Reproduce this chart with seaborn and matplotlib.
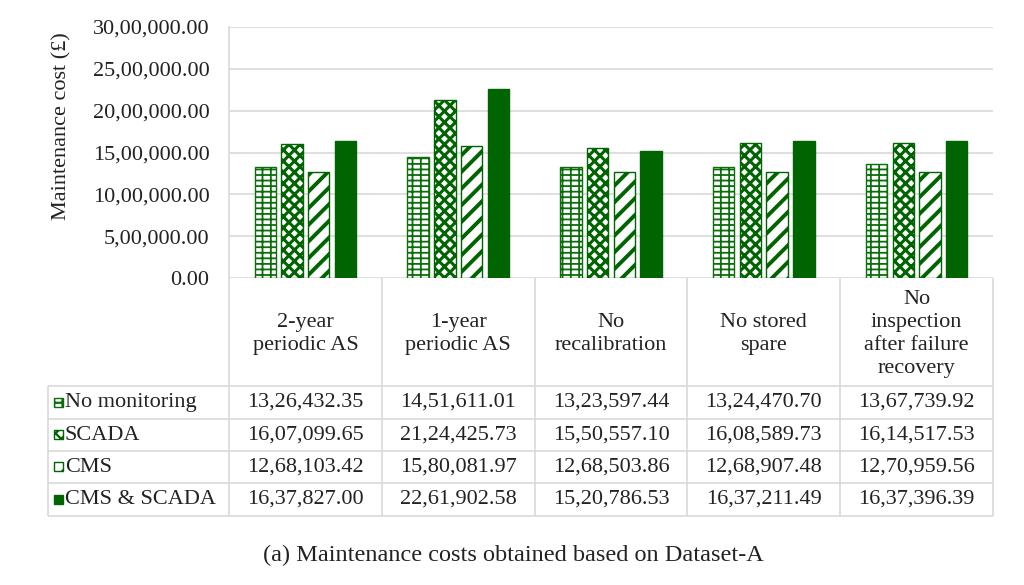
import numpy as np
import pandas as pd
import matplotlib
matplotlib.use("Agg")
import matplotlib.pyplot as plt
import seaborn as sns
from matplotlib.patches import Rectangle
from matplotlib.ticker import FuncFormatter, MultipleLocator

# ---------------- data ----------------
categories = ["2-year\nperiodic AS", "1-year\nperiodic AS", "No\nrecalibration",
              "No stored\nspare", "No\ninspection\nafter failure\nrecovery"]
series_names = ["No monitoring", "SCADA", "CMS", "CMS & SCADA"]
no_monitoring = [1326432.35, 1451611.01, 1323597.44, 1324470.70, 1367739.92]
scada = [1607099.65, 2124425.73, 1550557.10, 1608589.73, 1614517.53]
cms = [1268103.42, 1580081.97, 1268503.86, 1268907.48, 1270959.56]
cms_scada = [1637827.00, 2261902.58, 1520786.53, 1637211.49, 1637396.39]
y_label = "Maintenance cost (£)"
caption = "(a) Maintenance costs obtained based on Dataset-A"

series_values = [no_monitoring, scada, cms, cms_scada]

# ---------------- helpers ----------------
def indian(v, pos=None):
    neg = v < 0
    s = f"{abs(v):.2f}"
    ip, dp = s.split(".")
    if len(ip) > 3:
        head, tail = ip[:-3], ip[-3:]
        groups = []
        while len(head) > 2:
            groups.insert(0, head[-2:])
            head = head[:-2]
        if head:
            groups.insert(0, head)
        ip = ",".join(groups + [tail])
    return ("-" if neg else "") + ip + "." + dp

rows = []
for name, vals in zip(series_names, series_values):
    for c, v in zip(categories, vals):
        rows.append({"scenario": c, "system": name, "cost": v})
df = pd.DataFrame(rows)

# ---------------- style ----------------
sns.set_theme(style="white")
plt.rcParams["font.family"] = ["Liberation Serif", "DejaVu Serif"]
plt.rcParams["hatch.linewidth"] = 1.6
FS = 16
GREEN = "#0b6e0b"
DARK = "#006400"
GRID = "#d9d9d9"
TXT = "#222222"

W, H = 1024, 585
fig = plt.figure(figsize=(W / 100, H / 100), dpi=100)

# overlay axes in pixel units for the data table
tax = fig.add_axes([0, 0, 1, 1], zorder=0)
tax.set_xlim(0, W)
tax.set_ylim(H, 0)
tax.axis("off")

L, R, T, B = 229, 993, 27, 278
ax = fig.add_axes([L / W, 1 - B / H, (R - L) / W, (B - T) / H], zorder=1)
ax.patch.set_alpha(0)

sns.barplot(data=df, x="scenario", y="cost", hue="system", order=categories,
            hue_order=series_names, width=0.7, gap=0.2, ax=ax, legend=False,
            errorbar=None)

styles = [
    dict(face="white", hatch="---||", edge=GREEN),
    dict(face="white", hatch="xxx", edge=DARK),
    dict(face="white", hatch="//", edge=DARK),
    dict(face=DARK, hatch=None, edge=DARK),
]

def style_patch(p, st, hw=None):
    p.set_facecolor(st["face"])
    p.set_edgecolor(st["edge"])
    p.set_linewidth(1.0)
    if st["hatch"]:
        p.set_hatch(st["hatch"])
        if hw is not None:
            try:
                p.set_hatch_linewidth(hw)
            except AttributeError:
                pass

hatch_lw = [1.3, 2.2, 2.8, None]
for cont, st, hw in zip(ax.containers, styles, hatch_lw):
    for p in cont:
        style_patch(p, st, hw)

ax.set_xlim(-0.5, len(categories) - 0.5)
ax.set_ylim(0, 3000000)
ax.yaxis.set_major_locator(MultipleLocator(500000))
ax.yaxis.set_major_formatter(FuncFormatter(indian))
ax.grid(axis="y", color=GRID, linewidth=1.2)
ax.set_axisbelow(True)
ax.set_xticks([])
ax.set_xlabel("")
ax.set_ylabel("")
ax.tick_params(axis="y", length=0, pad=14, labelsize=FS, labelcolor=TXT)
for s in ["top", "right", "bottom"]:
    ax.spines[s].set_visible(False)
ax.spines["left"].set_color(GRID)
ax.spines["left"].set_linewidth(1.2)

fig.text(62 / W, 1 - 126 / H, y_label, rotation=90, ha="center", va="center",
         fontsize=16, color=TXT)

# ---------------- data table ----------------
ncol = len(categories)
colw = (R - L) / ncol
row_lines = [386, 419, 451, 483, 516]
LEFT_T = 48
lkw = dict(color=GRID, linewidth=1.2, solid_capstyle="butt")
# verticals
tax.plot([L, L], [B, row_lines[-1]], **lkw)
tax.plot([LEFT_T, LEFT_T], [row_lines[0], row_lines[-1]], **lkw)
for k in range(1, ncol + 1):
    x = L + k * colw
    tax.plot([x, x], [B, row_lines[-1]], **lkw)
for y in row_lines:
    tax.plot([LEFT_T, R], [y, y], **lkw)

for k, c in enumerate(categories):
    xc = L + (k + 0.5) * colw
    tax.text(xc, (B + row_lines[0]) / 2 + 2, c, ha="center", va="center",
             fontsize=FS, color=TXT, linespacing=1.3)

for i, (name, vals, st) in enumerate(zip(series_names, series_values, styles)):
    yc = (row_lines[i] + row_lines[i + 1]) / 2
    sq = Rectangle((54, yc - 5), 9, 9, facecolor=st["face"], edgecolor=st["edge"],
                   linewidth=1.0, hatch=st["hatch"])
    tax.add_patch(sq)
    tax.text(65, yc, name, ha="left", va="center", fontsize=FS, color=TXT)
    for k, v in enumerate(vals):
        xc = L + (k + 0.5) * colw
        tax.text(xc, yc, indian(v), ha="center", va="center", fontsize=FS, color=TXT)

fig.text(513 / W, 1 - 555 / H, caption, ha="center", va="center", fontsize=17.5, color=TXT)

fig.savefig("out.png", dpi=100)
